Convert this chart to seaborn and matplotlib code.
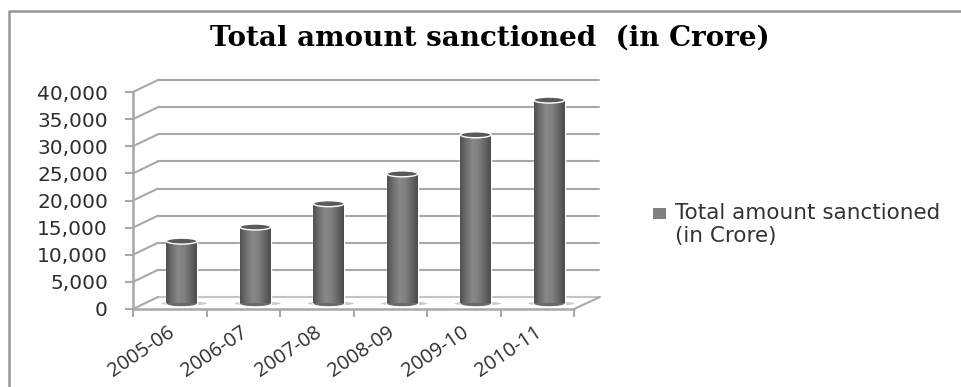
import numpy as np
import pandas as pd
import matplotlib
matplotlib.use("Agg")
import matplotlib.pyplot as plt
import matplotlib.transforms as mtrans
from matplotlib.colors import LinearSegmentedColormap
from matplotlib.lines import Line2D
from matplotlib.patches import Ellipse
import seaborn as sns

years = ["2005-06", "2006-07", "2007-08", "2008-09", "2009-10", "2010-11"]
amounts = [11500, 14100, 18400, 23900, 31100, 37500]
y_ticks = [0, 5000, 10000, 15000, 20000, 25000, 30000, 35000, 40000]
chart_title = "Total amount sanctioned  (in Crore)"
series_label = "Total amount sanctioned\n(in Crore)"

W, H = 961, 387
sns.set_style("white")
fig = plt.figure(figsize=(W / 100, H / 100), dpi=100, facecolor="white")
ax = fig.add_axes([133 / W, (H - 309) / H, 441 / W, 217 / H])
ax.patch.set_alpha(0)

df = pd.DataFrame({"year": years, "amount": amounts})
sns.barplot(data=df, x="year", y="amount", color="#808080", width=0.42,
            ax=ax, label=series_label, zorder=3)
ax.set_xlim(-0.5, 5.5)
ax.set_ylim(0, 40000)
ax.set_xlabel("")
ax.set_ylabel("")
sns.despine(ax=ax, left=True, bottom=True, top=True, right=True)

GRID = "#a8a8a8"
back = mtrans.Affine2D().translate(25, 12)
mid = mtrans.Affine2D().translate(12, 5.5)
ident = mtrans.IdentityTransform()

# walls and floor
for v in y_ticks:
    x0, y0 = ax.transData.transform((-0.5, v))
    ax.plot([-0.5, 5.5], [v, v], transform=ax.transData + back, color="#c4c4c4" if v == 0 else GRID,
            lw=1.5, clip_on=False, zorder=1)
    ax.plot([x0, x0 + 25], [y0, y0 + 12], transform=ident, color=GRID, lw=1.5, clip_on=False, zorder=1)
x1, y1 = ax.transData.transform((5.5, 0))
ax.plot([x1, x1 + 26], [y1, y1 + 12], transform=ident, color=GRID, lw=1.5, clip_on=False, zorder=1)
ax.plot([-0.5, -0.5], [0, 40000], color=GRID, lw=1.8, clip_on=False, zorder=2)
ax.plot([-0.5, 5.5], [0, 0], color=GRID, lw=1.8, clip_on=False, zorder=2)

# ticks
ax.set_yticks(y_ticks)
ax.set_yticklabels([f"{v:,}" for v in y_ticks])
ax.tick_params(axis="y", left=True, length=6, width=1.5, color=GRID, labelsize=14.5,
               labelcolor="#2e2e2e", pad=12)
for t in ax.get_yticklabels():
    t.set_fontfamily("DejaVu Sans")
ax.set_xticks(np.arange(len(years)))
ax.set_xticklabels(years)
ax.set_xticks(np.arange(len(years) + 1) - 0.5, minor=True)
ax.tick_params(axis="x", which="minor", bottom=True, length=6, width=1.5, color=GRID)
ax.tick_params(axis="x", which="major", bottom=False, pad=6, labelcolor="#2e2e2e")
label_shift = mtrans.Affine2D().translate(-3, 0)
for t in ax.get_xticklabels():
    t.set_rotation(34)
    t.set_ha("right")
    t.set_va("top")
    t.set_rotation_mode("anchor")
    t.set_fontfamily("Open Sans")
    t.set_fontsize(14.5)
    t.set_transform(t.get_transform() + label_shift)

# cylinders
cmap = LinearSegmentedColormap.from_list("cyl", ["#505050", "#707070", "#888888", "#808080", "#666666", "#4c4c4c"])
grad = np.linspace(0, 1, 64)[None, :]
eh = 1100
for bar in list(ax.patches):
    x, w, h = bar.get_x(), bar.get_width(), bar.get_height()
    cx = x + w / 2
    bar.set_transform(ax.transData + mid)
    bar.set_edgecolor("white")
    bar.set_linewidth(1.0)
    bar.set_clip_on(False)
    shadow = Ellipse((cx + 0.03, 0), w * 1.5, eh * 0.7, transform=ax.transData + mid,
                     facecolor="#cccccc", edgecolor="none", zorder=2.5, clip_on=False)
    ax.add_patch(shadow)
    base = Ellipse((cx, 0), w, eh, transform=ax.transData + mid, facecolor="#6e6e6e",
                   edgecolor="white", lw=1.0, zorder=2.8, clip_on=False)
    ax.add_patch(base)
    im = ax.imshow(grad, extent=(x, x + w, 0, h), cmap=cmap, aspect="auto", zorder=3.2,
                   transform=ax.transData + mid, clip_on=False, interpolation="bilinear")
    basefill = Ellipse((cx, 0), w * 0.985, eh * 0.9, transform=ax.transData + mid, facecolor="#6a6a6a",
                       edgecolor="none", zorder=3.1, clip_on=False)
    ax.add_patch(basefill)
    top = Ellipse((cx, h), w, eh, transform=ax.transData + mid, facecolor="#5a5a5a",
                  edgecolor="white", lw=1.0, zorder=3.4, clip_on=False)
    ax.add_patch(top)
ax.set_xlim(-0.5, 5.5)
ax.set_ylim(0, 40000)
ax.set_aspect("auto")

# title, legend, frame
fig.text(490 / W, 1 - 38 / H, chart_title, family="DejaVu Serif", weight="bold", fontsize=20,
         ha="center", va="center", color="black")
leg = ax.legend(loc="upper left", bbox_to_anchor=(650 / W, 1 - 203 / H), bbox_transform=fig.transFigure,
                frameon=False, prop={"family": "DejaVu Sans", "size": 15.5}, labelcolor="#333333",
                handlelength=0.6, handleheight=0.4, handletextpad=0.55, labelspacing=0, borderaxespad=0,
                borderpad=0)
for p in leg.get_patches():
    p.set_y(p.get_y() + 8)
    p.set_x(p.get_x() + 2)
    p.set_edgecolor("none")
fig.add_artist(Line2D([9 / W, 9 / W, 1], [0, 1 - 11 / H, 1 - 11 / H], transform=fig.transFigure,
                      color="#969696", lw=1.8))
fig.savefig("out.png", dpi=100)
